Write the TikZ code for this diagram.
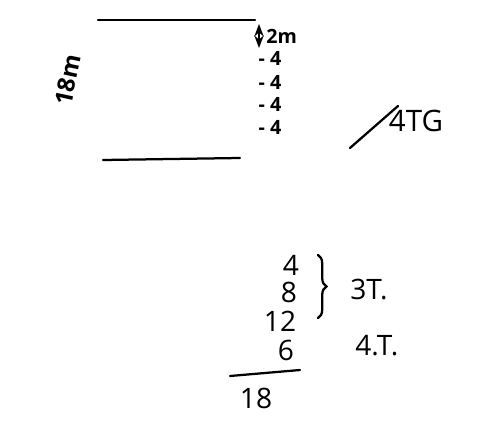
\documentclass[tikz,border=0pt]{standalone}
\usepackage{fontspec}
\setmainfont{Open Sans}
\usetikzlibrary{positioning,arrows.meta,decorations.pathreplacing}

\begin{document}
\begin{tikzpicture}[
  x=0.025cm, y=-0.025cm,
  pen/.style={line width=1.6pt, line cap=round},
  big/.style={font=\fontsize{20}{21}\selectfont, inner sep=0pt},
  sm/.style={font=\fontsize{14}{15}\bfseries\selectfont, inner sep=0pt},
  >={Stealth}
]
\useasboundingbox (0,0) rectangle (478,439);

% floor plan
\coordinate (t1) at (98,20);  \coordinate (t2) at (255,20);
\coordinate (b1) at (103,160); \coordinate (b2) at (240,158);
\draw[pen] (t1) -- (t2);
\draw[pen] (b1) -- (b2);
\node[sm, font=\fontsize{17}{18}\bfseries\selectfont, rotate=78] (h) at (68,80) {18m};

% heights
\coordinate (a1) at (259,24); \coordinate (a2) at (259,48);
\draw[pen, line width=1.3pt, <->] (a1) -- (a2);
\node[sm, anchor=west] (m2) at (266,36) {2m};
\node[sm] (s1) at (270,58) {- 4};
\node[sm] (s2) at (270,82) {- 4};
\node[sm] (s3) at (270,104) {- 4};
\node[sm] (s4) at (270,127) {- 4};

% crossed out
\node[big, font=\fontsize{21}{22}\selectfont] (tg) at (416,121) {4TG};
\coordinate (x1) at (350,148); \coordinate (x2) at (398,106);
\draw[pen] (x1) -- (x2);

% sum
\node[big] (n4) at (291,265) {4};
\node[big] (n8) at (289,292) {8};
\node[big] (n12) at (280,321) {12};
\node[big] (n6) at (286,350) {6};
\coordinate (l1) at (230,376); \coordinate (l2) at (300,370);
\draw[pen] (l1) -- (l2);
\node[big] (n18) at (256,398) {18};

\draw[pen, decorate, decoration={brace, amplitude=6pt}] (318,255) -- (318,318);
\node[big, anchor=west] (t3) at (350,290) {3T.};
\node[big, anchor=west] (t4) at (355,346) {4.T.};
\end{tikzpicture}
\end{document}
